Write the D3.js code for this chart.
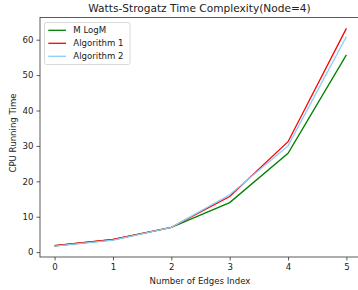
<html>
<head>
<script src="https://cdn.jsdelivr.net/npm/d3@7"></script>
<style>
  body { margin: 0; background: #fff; }
  text { font-family: "DejaVu Sans", sans-serif; fill: #222; }
</style>
</head>
<body>
<script>
// data
const edgeIndex = [0, 1, 2, 3, 4, 5];
const mLogM = [1.8, 3.5, 7.0, 14.0, 27.9, 55.7];
const algorithm1 = [1.8, 3.6, 7.0, 15.7, 31.2, 63.2];
const algorithm2 = [1.7, 3.4, 7.0, 16.2, 30.0, 60.9];
const yTicks = [0, 10, 20, 30, 40, 50, 60];

const series = [
  { name: "M LogM", values: mLogM, color: "green" },
  { name: "Algorithm 1", values: algorithm1, color: "red" },
  { name: "Algorithm 2", values: algorithm2, color: "lightskyblue" }
];

const w = 358, h = 290;
const mLeft = 40, mRight = 361, mTop = 17.5, mBottom = 257;
const fs = "8.6px";

const svg = d3.select("body").append("svg")
  .attr("width", w).attr("height", h);

const x = d3.scaleLinear().domain([-0.25, 5.25]).range([mLeft, mRight]);
const yMax = d3.max([...mLogM, ...algorithm1, ...algorithm2]);
const yMin = d3.min([...mLogM, ...algorithm1, ...algorithm2]);
const pad = (yMax - yMin) * 0.05;
const y = d3.scaleLinear().domain([yMin - pad, yMax + pad]).range([mBottom, mTop]);

// lines
const line = d3.line().x((d, i) => x(edgeIndex[i])).y(d => y(d));
for (let s of series) {
  svg.append("path")
    .attr("d", line(s.values))
    .attr("fill", "none")
    .attr("stroke", s.color)
    .attr("stroke-width", 1.3);
}

// axes
const xAxis = d3.axisBottom(x).tickValues(edgeIndex).tickFormat(d3.format("d"))
  .tickSize(3.5).tickPadding(3);
svg.append("g").attr("transform", "translate(0," + mBottom + ")").call(xAxis);
const yAxis = d3.axisLeft(y).tickValues(yTicks).tickSize(3.5).tickPadding(3);
svg.append("g").attr("transform", "translate(" + mLeft + ",0)").call(yAxis);
svg.selectAll(".domain").remove();
svg.selectAll(".tick line").attr("stroke", "#333").attr("stroke-width", 0.8);
svg.selectAll(".tick text").attr("font-size", fs).attr("fill", "#222")
  .attr("font-family", "DejaVu Sans, sans-serif");

// frame
svg.append("rect")
  .attr("x", mLeft).attr("y", mTop)
  .attr("width", mRight - mLeft).attr("height", mBottom - mTop)
  .attr("fill", "none").attr("stroke", "#333").attr("stroke-width", 0.8);

// labels
svg.append("text")
  .attr("x", 199.5).attr("y", 11.5)
  .attr("text-anchor", "middle").attr("font-size", "10.6px")
  .text("Watts-Strogatz Time Complexity(Node=4)");
svg.append("text")
  .attr("x", 200).attr("y", 284)
  .attr("text-anchor", "middle").attr("font-size", fs)
  .text("Number of Edges Index");
svg.append("text")
  .attr("transform", "translate(16,133) rotate(-90)")
  .attr("text-anchor", "middle").attr("font-size", fs)
  .text("CPU Running Time");

// legend
const lg = svg.append("g").attr("transform", "translate(44.5,22.5)");
lg.append("rect")
  .attr("width", 85.5).attr("height", 42).attr("rx", 2)
  .attr("fill", "white").attr("fill-opacity", 0.8)
  .attr("stroke", "#d0d0d0").attr("stroke-width", 0.8);
series.forEach(function(s, i) {
  const yy = 7.8 + i * 13;
  lg.append("line")
    .attr("x1", 3.8).attr("x2", 21.5).attr("y1", yy).attr("y2", yy)
    .attr("stroke", s.color).attr("stroke-width", 1.3);
  lg.append("text")
    .attr("x", 28.8).attr("y", yy + 3)
    .attr("font-size", fs)
    .text(s.name);
});
</script>
</body>
</html>
